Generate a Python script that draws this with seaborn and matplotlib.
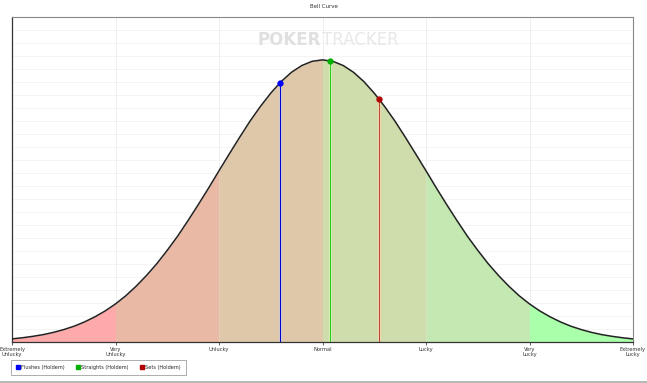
"""
Bell curve of luck: normal density with coloured sigma bands and markers for each hand type
"""
import numpy as np
import seaborn as sns
import matplotlib.pyplot as plt
from matplotlib.lines import Line2D

# curve, relative height (peak = 1) at 0.1 sigma steps
sigma = np.linspace(-3, 3, 61)
half = [1.000, 0.995, 0.980, 0.956, 0.923, 0.882, 0.835, 0.783, 0.726, 0.667,
        0.607, 0.546, 0.487, 0.430, 0.375, 0.325, 0.278, 0.236, 0.198, 0.164,
        0.135, 0.110, 0.089, 0.071, 0.056, 0.044, 0.034, 0.026, 0.020, 0.015,
        0.011]
height = np.array(half[::-1] + half[1:])

# band edges and colours
band_edges = [-3, -2, -1, 0, 1, 2, 3]
band_colors = ['#ffaaaa', '#e9b9a6', '#dfc8a9', '#cfdcab', '#c3e8b2', '#aaffaa']

tick_pos = [-3, -2, -1, 0, 1, 2, 3]
tick_labels = ['Extremely\nUnlucky', 'Very\nUnlucky', 'Unlucky', 'Normal',
               'Lucky', 'Very\nLucky', 'Extremely\nLucky']

# hand types: position in sigma and height on the curve
hands = ['Flushes (Holdem)', 'Straights (Holdem)', 'Sets (Holdem)']
hand_sigma = [-0.41, 0.07, 0.55]
hand_height = [0.919, 0.997, 0.86]
hand_colors = ['#0000ff', '#00b000', '#b00000']
line_colors = ['#0000cc', '#22cc22', '#b84a30']

sns.set_style("white")
plt.rcParams['font.family'] = ['DejaVu Sans']

fig = plt.figure(figsize=(6.47, 3.83), dpi=100)
ax = fig.add_axes([12 / 647, 41 / 383, 621 / 647, 325 / 383])

# faint grid
for gy in np.linspace(0, 1.152, 26)[1:-1]:
    ax.axhline(gy, color='#f3f3f3', lw=0.6, zorder=0)
for gx in tick_pos[1:-1]:
    ax.axvline(gx, color='#ededed', lw=0.6, zorder=0)

# coloured bands under the curve
for i, c in enumerate(band_colors):
    m = (sigma >= band_edges[i] - 1e-9) & (sigma <= band_edges[i + 1] + 1e-9)
    ax.fill_between(sigma[m], 0, height[m], color=c, lw=0, zorder=1)

sns.lineplot(x=sigma, y=height, ax=ax, color='#222222', lw=1.1, zorder=3)

for s, h, lc, mc in zip(hand_sigma, hand_height, line_colors, hand_colors):
    ax.plot([s, s], [0, h], color='#fff8d0', lw=2.2, zorder=2)
    ax.plot([s, s], [0, h], color=lc, lw=1.0, zorder=2)
    ax.plot(s, h, 'o', color=mc, ms=3.5, zorder=4)

ax.set_xlim(-3, 3)
ax.set_ylim(0, 1.152)
ax.set_yticks([])
ax.set_xticks(tick_pos)
ax.set_xticklabels(tick_labels, fontsize=3.7, color='#333333', linespacing=1.0)
ax.tick_params(axis='x', length=2, width=0.6, color='#444444', pad=1.5, bottom=True)

for side in ['top', 'right']:
    ax.spines[side].set_color('#888888')
    ax.spines[side].set_linewidth(0.8)
for side in ['left', 'bottom']:
    ax.spines[side].set_color('#333333')
    ax.spines[side].set_linewidth(0.9)

fig.text(0.5, 1 - 7 / 383, 'Bell Curve', ha='center', va='center', fontsize=4.0, color='#333333')

# watermark
ax.text(0.497, 0.93, 'POKER', transform=ax.transAxes, ha='right', va='center',
        fontsize=12, fontweight='bold', color='#e0e0e0', family='Liberation Sans Narrow', zorder=0)
ax.text(0.5, 0.93, 'TRACKER', transform=ax.transAxes, ha='left', va='center',
        fontsize=12, color='#e8e8e8', family='Liberation Sans Narrow', zorder=0)

handles = [Line2D([], [], marker='s', ls='', color=c, ms=2.5) for c in hand_colors]
leg = fig.legend(handles, hands, loc='lower left', bbox_to_anchor=(8 / 647, 6 / 383),
                 ncol=3, fontsize=3.6, frameon=True, fancybox=False, handletextpad=0.3,
                 columnspacing=2.2, borderpad=1.0, handlelength=0.8)
leg.get_frame().set_edgecolor('#888888')
leg.get_frame().set_linewidth(0.6)

fig.add_artist(Line2D([0, 1], [1.5 / 383, 1.5 / 383], color='#aaaaaa', lw=1.2))

fig.savefig('out.png', dpi=100)
